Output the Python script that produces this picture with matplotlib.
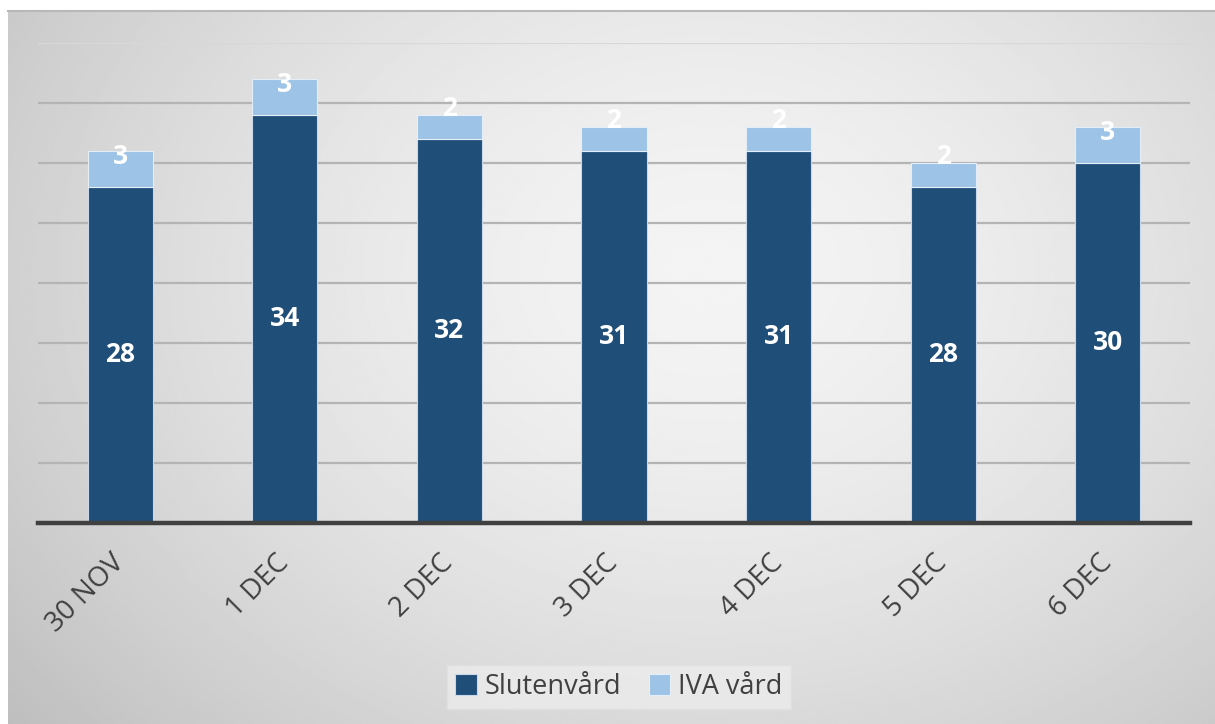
import matplotlib.pyplot as plt
import numpy as np

dates = ['30 NOV', '1 DEC', '2 DEC', '3 DEC', '4 DEC', '5 DEC', '6 DEC']
slutenvard = [28, 34, 32, 31, 31, 28, 30]
iva_vard = [3, 3, 2, 2, 2, 2, 3]

dark = '#1f4e79'
light = '#9dc3e6'
text_col = '#404040'

plt.rcParams['font.family'] = ['Open Sans', 'DejaVu Sans']

W, H = 1215, 724
fig = plt.figure(figsize=(W / 100, H / 100), dpi=100, facecolor='white')

# gradient background of the chart box
bg = fig.add_axes([8 / W, 0, 1 - 8 / W, (H - 11) / H])
yy, xx = np.mgrid[0:300, 0:500]
cx, cy = 290, 110
r = np.sqrt(((xx - cx) / 330.0) ** 2 + ((yy - cy) / 260.0) ** 2)
vals = 0.955 - 0.17 * np.clip(r, 0, 1.3) ** 1.6
bg.imshow(vals, cmap='gray', vmin=0, vmax=1, aspect='auto',
          extent=[0, 1, 0, 1], origin='upper', interpolation='bilinear')
bg.set_axis_off()
fig.add_artist(plt.Line2D([8 / W, 1], [(H - 11) / H] * 2, color='#b8b8b8', lw=1.5))

ax = fig.add_axes([38 / W, (H - 523) / H, (1190 - 38) / W, (523 - 43) / H])
ax.patch.set_alpha(0)
x = np.arange(len(dates))
width = 0.395
b1 = ax.bar(x, slutenvard, width, color=dark, edgecolor='#c9d9ea', linewidth=0.8,
            label='Slutenvård', zorder=3)
b2 = ax.bar(x, iva_vard, width, bottom=slutenvard, color=light, edgecolor='#e3eef8',
            linewidth=0.8, label='IVA vård', zorder=3)

for i in range(len(dates)):
    ax.text(x[i], slutenvard[i] / 2, str(slutenvard[i]), color='white', fontsize=19,
            fontweight='bold', ha='center', va='center', zorder=4)
    ax.text(x[i], slutenvard[i] + 2.5, str(iva_vard[i]), color='white', fontsize=19,
            fontweight='bold', ha='center', va='center', zorder=4)

ax.set_xlim(-0.5, len(dates) - 0.5)
ax.set_ylim(0, 40)
ax.set_yticks(np.arange(5, 41, 5))
ax.yaxis.grid(True, color='#b4b4b4', linewidth=1.6, zorder=0)
ax.get_ygridlines()[-1].set_color('#d8d8d8')
ax.tick_params(axis='y', left=False, labelleft=False)
ax.tick_params(axis='x', length=0, pad=26)
ax.set_xticks(x)
ax.set_xticklabels(dates, rotation=45, ha='right', va='center', rotation_mode='anchor',
                   fontsize=20, color=text_col)
for s in ['top', 'right', 'left']:
    ax.spines[s].set_visible(False)
ax.spines['bottom'].set_color(text_col)
ax.spines['bottom'].set_linewidth(3.2)
ax.spines['bottom'].set_zorder(5)

leg = fig.legend(handles=[b1, b2], loc='center', bbox_to_anchor=(619 / W, (H - 687) / H),
                 ncol=2, fontsize=19.5, frameon=True, fancybox=False, handlelength=0.8,
                 handleheight=0.8, handletextpad=0.3, columnspacing=1.0, borderpad=0.3)
leg.get_frame().set_facecolor('#ececec')
leg.get_frame().set_edgecolor('#e0e0e0')
for t in leg.get_texts():
    t.set_color(text_col)

fig.savefig('out.png', dpi=100, facecolor='white')
